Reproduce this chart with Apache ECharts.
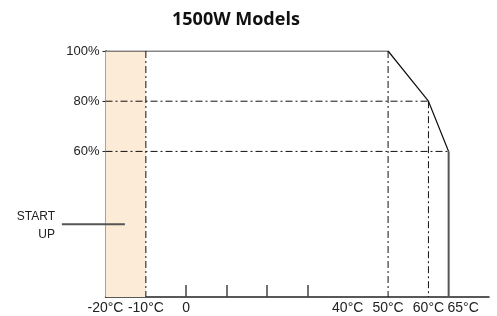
<!DOCTYPE html>
<html>
<head>
<meta charset="utf-8">
<script src="https://cdn.jsdelivr.net/npm/echarts@6/dist/echarts.min.js"></script>
<style>
  html, body { margin: 0; padding: 0; background: #fff; }
  #chart { width: 497px; height: 316px; }
</style>
</head>
<body>
<div id="chart"></div>
<script>
// derating curve (temperature °C, output %)
const curve = [[-20, 100], [50, 100], [60, 80], [65, 60]];
const curveDrop = [[65, 60], [65, 2]];
// dash-dot guide lines
const guide80 = [[-20, 80], [60, 80]];
const guide60 = [[-20, 60], [65, 60]];
const guideM10 = [[-10, 100], [-10, 2]];
const guide50 = [[50, 100], [50, 2]];
const guide60C = [[60, 80], [60, 2]];
// start-up zone
const startUpZone = [-20, -10];
const startUpPointer = [[-30.8, 31], [-15.2, 31]];
// axes
const xLabelValues = [-20, -10, 0, 40, 50, 60, 65];
const xTickValues = [0, 10, 20, 30];
const yLabelValues = [60, 80, 100];

const chart = echarts.init(document.getElementById('chart'));
const font = 'Liberation Sans, Arial, sans-serif';
const dashDot = {color: '#111', width: 1, type: [7, 3, 2, 3]};

function guide(data) {
  return {type: 'line', data: data, symbol: 'none', silent: true, lineStyle: dashDot};
}

const option = {
  animation: false,
  title: {
    text: '1500W Models',
    left: 167,
    top: 6,
    textStyle: {fontFamily: 'Open Sans', fontWeight: 'bold', fontSize: 18, color: '#111'}
  },
  grid: {left: 105.5, right: 8, top: 51, bottom: 19},
  xAxis: {
    type: 'value',
    min: -20,
    max: 75,
    splitLine: {show: false},
    axisLine: {onZero: false, lineStyle: {color: '#222', width: 1.5}},
    axisTick: {show: true, customValues: xTickValues, inside: true, length: 12, lineStyle: {color: '#444', width: 1.5}},
    axisLabel: {
      customValues: xLabelValues,
      fontFamily: font,
      fontSize: 14,
      color: '#222',
      margin: 4,
      formatter: function (v) {
        if (v === 0) return '0';
        if (v === 65) return '{r|65°C}';
        return v + '°C';
      },
      rich: {r: {fontFamily: font, fontSize: 14, color: '#222', padding: [0, 0, 0, 29]}}
    }
  },
  yAxis: {
    type: 'value',
    min: 2,
    max: 100,
    splitLine: {show: false},
    axisLine: {show: true, onZero: false, lineStyle: {color: '#222', width: 1.5}},
    axisTick: {show: true, customValues: yLabelValues, length: 3, lineStyle: {color: '#222'}},
    axisLabel: {
      customValues: yLabelValues,
      fontFamily: font,
      fontSize: 13,
      color: '#222',
      margin: 6,
      formatter: '{value}%'
    }
  },
  series: [
    {
      type: 'line',
      data: [],
      silent: true,
      markArea: {
        silent: true,
        itemStyle: {color: '#fcebd6'},
        data: [[{xAxis: startUpZone[0]}, {xAxis: startUpZone[1]}]]
      }
    },
    guide(guide80),
    guide(guide60),
    guide(guideM10),
    guide(guide50),
    guide(guide60C),
    {
      type: 'line',
      data: curve,
      symbol: 'none',
      lineStyle: {color: '#111', width: 1.2}
    },
    {
      type: 'line',
      data: curveDrop,
      symbol: 'none',
      lineStyle: {color: '#555', width: 2}
    }
  ]
};
chart.setOption(option);

// pointer from the START UP note into the shaded zone
const p0 = chart.convertToPixel({gridIndex: 0}, startUpPointer[0]);
const p1 = chart.convertToPixel({gridIndex: 0}, startUpPointer[1]);
chart.setOption({
  graphic: [
    {
      type: 'line',
      z: 10,
      shape: {x1: p0[0], y1: p0[1], x2: p1[0], y2: p1[1]},
      style: {stroke: '#555', lineWidth: 2}
    },
    {
      type: 'text',
      x: 55,
      y: 217,
      style: {text: 'START', align: 'right', verticalAlign: 'middle', font: '12px ' + font, fill: '#222'}
    },
    {
      type: 'text',
      x: 55,
      y: 235,
      style: {text: 'UP', align: 'right', verticalAlign: 'middle', font: '12px ' + font, fill: '#222'}
    }
  ]
});
</script>
</body>
</html>
